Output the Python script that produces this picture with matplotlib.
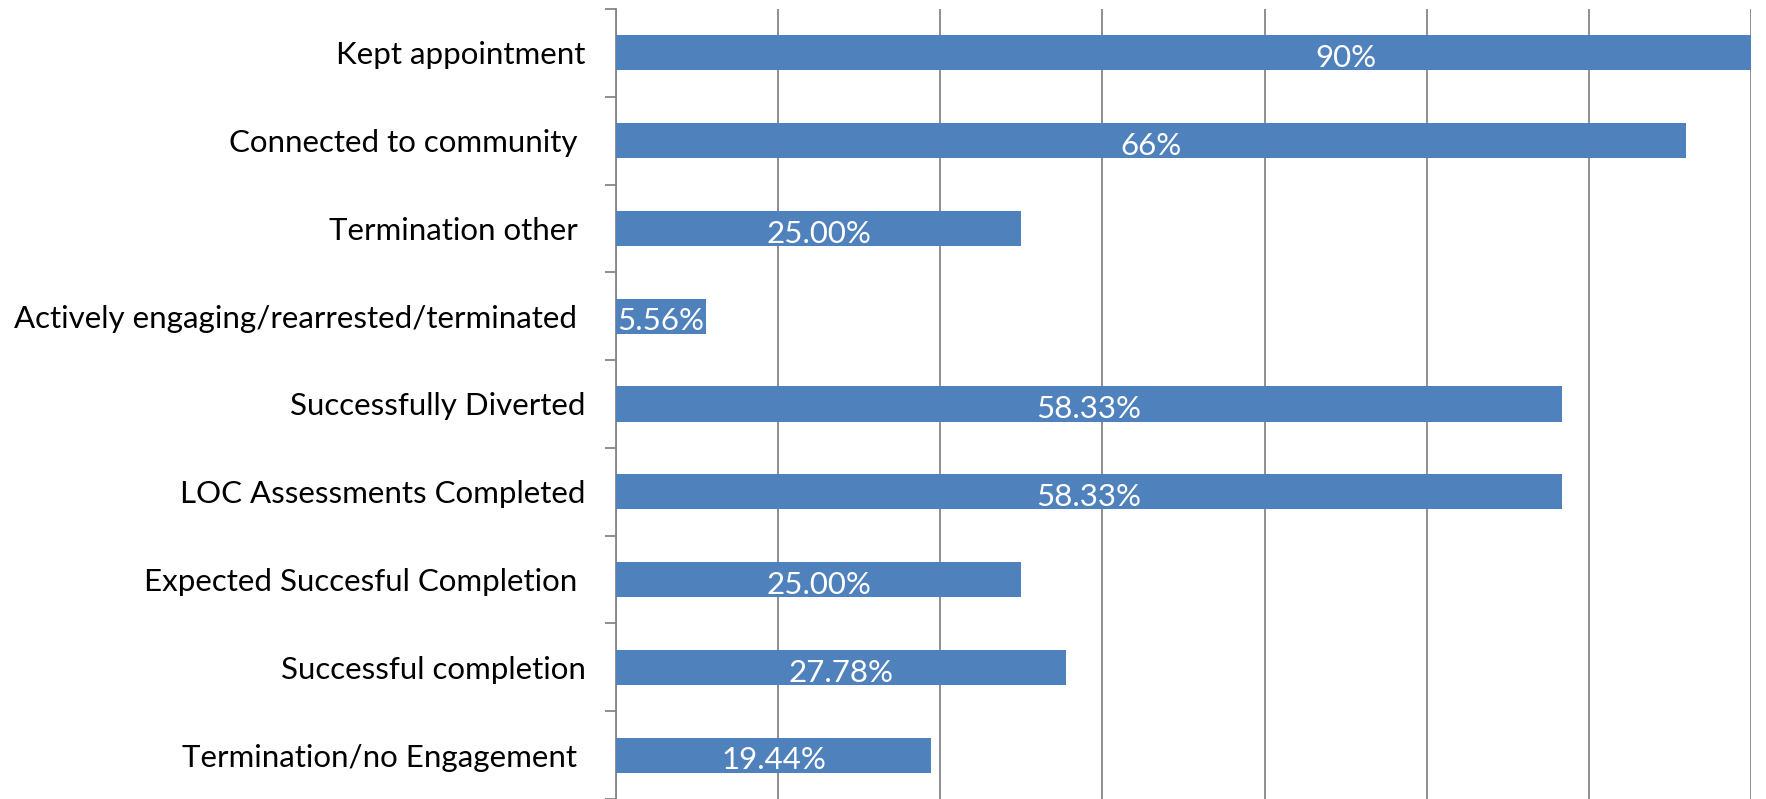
import matplotlib
matplotlib.use("Agg")
import matplotlib.pyplot as plt

plt.rcParams['font.family'] = ['Lato', 'DejaVu Sans']

categories = [
    "Kept appointment",
    "Connected to community ",
    "Termination other ",
    "Actively engaging/rearrested/terminated ",
    "Successfully Diverted",
    "LOC Assessments Completed",
    "Expected Succesful Completion ",
    "Successful completion",
    "Termination/no Engagement ",
]
values = [90, 66, 25.00, 5.56, 58.33, 58.33, 25.00, 27.78, 19.44]
value_labels = ["90%", "66%", "25.00%", "5.56%", "58.33%", "58.33%", "25.00%", "27.78%", "19.44%"]
x_max = 70
grid_ticks = [0, 10, 20, 30, 40, 50, 60, 70]

fig = plt.figure(figsize=(17.66, 7.99), dpi=100)
ax = fig.add_axes([616/1766, 0.0, (1751-616)/1766, 1 - 9/799])

n = len(categories)
ypos = list(range(n))
ax.barh(ypos, values, height=0.4, color="#4F81BD", zorder=3, clip_on=True)
ax.set_xlim(0, x_max)
ax.set_ylim(n - 0.5, -0.5)

for y, v, lab in zip(ypos, values, value_labels):
    ax.text(v / 2, y + 0.06, lab, ha="center", va="center", color="white",
            fontsize=22.5, zorder=4, clip_on=True)

ax.set_xticks(grid_ticks)
ax.set_xticklabels([])
ax.tick_params(axis="x", length=0)
ax.grid(axis="x", color="#868686", linewidth=1.3, zorder=0)

ax.set_yticks([i - 0.5 for i in range(n + 1)])
ax.set_yticklabels([])
ax.set_yticks(ypos, minor=True)
ax.set_yticklabels(categories, minor=True, fontsize=22.5)
ax.tick_params(axis="y", which="minor", length=0, pad=22)
ax.tick_params(axis="y", which="major", length=8, width=1.3, color="#868686", direction="out")

for s in ["top", "right", "bottom"]:
    ax.spines[s].set_visible(False)
ax.spines["left"].set_color("#868686")
ax.spines["left"].set_linewidth(1.3)

fig.savefig("out.png", dpi=100)
